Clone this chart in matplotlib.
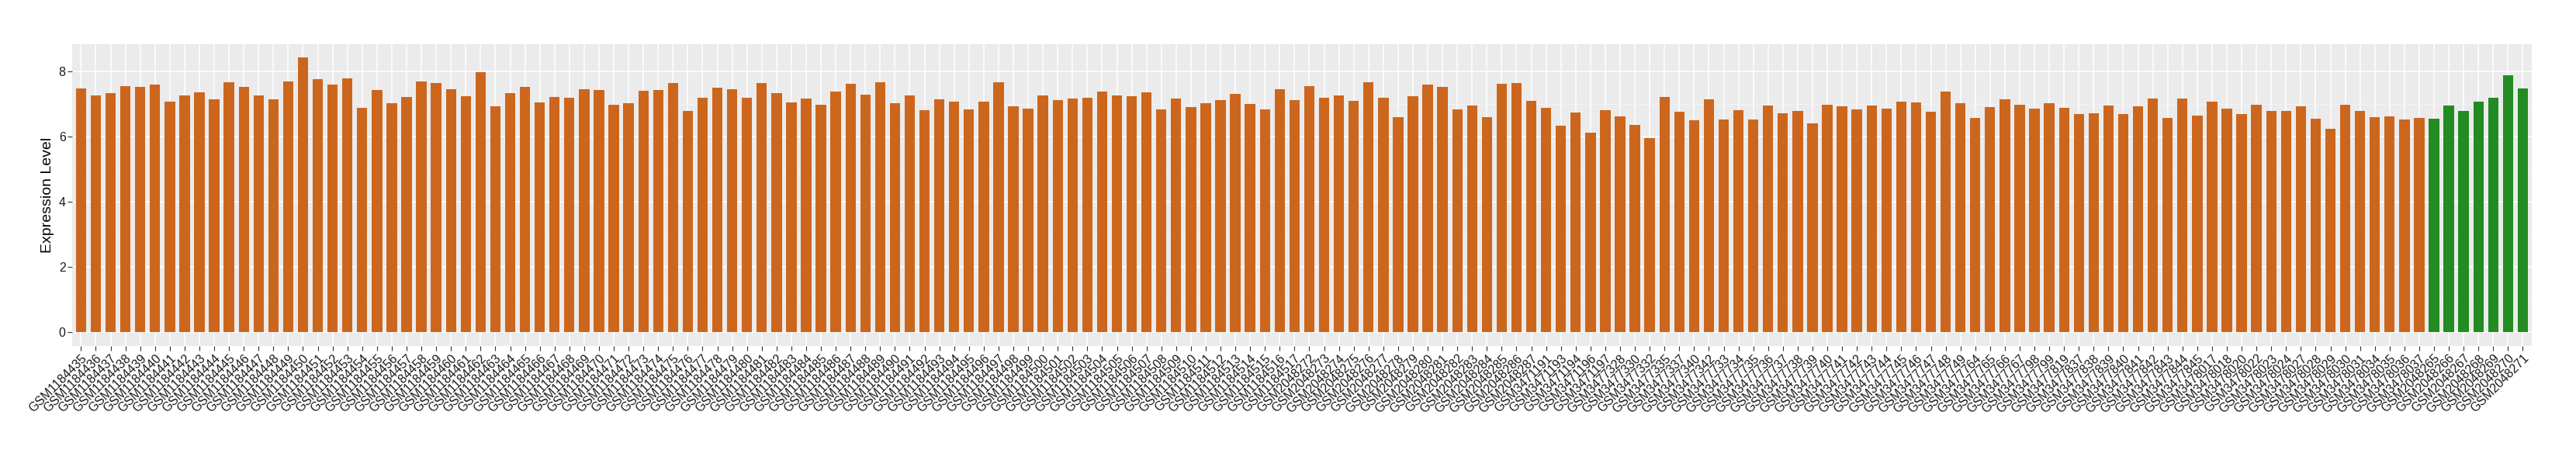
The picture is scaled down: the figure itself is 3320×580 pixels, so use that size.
import matplotlib
matplotlib.use('Agg')
import matplotlib.pyplot as plt
from matplotlib.ticker import MultipleLocator

plt.rcParams['font.family'] = ['Liberation Sans', 'DejaVu Sans']

# sample ids, read left to right
samples_a = ['GSM1184%d' % i for i in range(435, 518)]
samples_b = ['GSM2048%d' % i for i in range(272, 288)]
samples_c = ['GSM3471191', 'GSM3471193', 'GSM3471194', 'GSM3471196', 'GSM3471197',
             'GSM3477328', 'GSM3477330', 'GSM3477332', 'GSM3477335', 'GSM3477337',
             'GSM3477340', 'GSM3477342']
samples_d = ['GSM3477%d' % i for i in range(733, 750)]
samples_e = ['GSM3477764', 'GSM3477765', 'GSM3477766', 'GSM3477767', 'GSM3477798',
             'GSM3477799', 'GSM3477819', 'GSM3477837', 'GSM3477838', 'GSM3477839',
             'GSM3477840', 'GSM3477841', 'GSM3477842', 'GSM3477843', 'GSM3477844',
             'GSM3477845']
samples_f = ['GSM3478017', 'GSM3478018', 'GSM3478020', 'GSM3478022', 'GSM3478023',
             'GSM3478024', 'GSM3478027', 'GSM3478028', 'GSM3478029', 'GSM3478030',
             'GSM3478031', 'GSM3478034', 'GSM3478035', 'GSM3478036', 'GSM3478037']
samples_green = ['GSM2048%d' % i for i in range(265, 272)]

# expression values per block
values_a = [7.47, 7.25, 7.33, 7.54, 7.51, 7.58, 7.06, 7.25, 7.34, 7.13,
            7.65, 7.51, 7.25, 7.13, 7.68, 8.41, 7.75, 7.58, 7.77, 6.87,
            7.41, 7.01, 7.20, 7.68, 7.63, 7.44, 7.23, 7.97, 6.92, 7.33,
            7.51, 7.04, 7.20, 7.18, 7.44, 7.41, 6.97, 7.01, 7.40, 7.41,
            7.63, 6.77, 7.18, 7.49, 7.44, 7.18, 7.63, 7.33, 7.04, 7.16,
            6.97, 7.37, 7.61, 7.27, 7.65, 7.01, 7.25, 6.80, 7.13, 7.06,
            6.83, 7.06, 7.65, 6.92, 6.85, 7.25, 7.11, 7.16, 7.18, 7.37,
            7.25, 7.23, 7.34, 6.83, 7.16, 6.90, 7.01, 7.11, 7.30, 6.99,
            6.83, 7.44, 7.11]
values_b = [7.54, 7.18, 7.25, 7.09, 7.65, 7.18, 6.59, 7.23, 7.58, 7.51,
            6.83, 6.94, 6.59, 7.61, 7.63, 7.09]
values_c = [6.87, 6.33, 6.73, 6.12, 6.80, 6.61, 6.35, 5.95, 7.20, 6.76,
            6.49, 7.13]
values_d = [6.52, 6.80, 6.52, 6.94, 6.70, 6.77, 6.40, 6.97, 6.92, 6.83,
            6.94, 6.85, 7.06, 7.04, 6.76, 7.37, 7.01]
values_e = [6.56, 6.90, 7.13, 6.97, 6.85, 7.01, 6.87, 6.69, 6.70, 6.94,
            6.69, 6.92, 7.16, 6.56, 7.16, 6.63]
values_f = [7.06, 6.85, 6.69, 6.97, 6.77, 6.77, 6.92, 6.54, 6.23, 6.97,
            6.77, 6.59, 6.61, 6.52, 6.56]
values_green = [6.54, 6.94, 6.77, 7.06, 7.18, 7.87, 7.47]

samples = samples_a + samples_b + samples_c + samples_d + samples_e + samples_f + samples_green
values = values_a + values_b + values_c + values_d + values_e + values_f + values_green
n_green = len(samples_green)
colors = ['#CD661D'] * (len(samples) - n_green) + ['#228B22'] * n_green

fig = plt.figure(figsize=(33.2, 5.8), dpi=100)
ax = fig.add_axes([0.028, 0.2314, 0.9548, 0.671])
ax.set_facecolor('#EBEBEB')

x = list(range(len(samples)))
ax.bar(x, values, width=0.7, color=colors, zorder=3)

top = max(values)
ax.set_ylim(-0.05 * top, 1.05 * top)
ax.set_xlim(-0.6, len(samples) - 1 + 0.6)

ax.yaxis.set_major_locator(MultipleLocator(2))
ax.yaxis.set_minor_locator(MultipleLocator(1))
ax.grid(which='major', axis='both', color='white', linewidth=1.1, zorder=0)
ax.grid(which='minor', axis='y', color='#F5F5F5', linewidth=0.6, zorder=0)
ax.set_axisbelow(True)

ax.set_xticks(x)
ax.set_xticklabels(samples, rotation=45, ha='right', va='top',
                   rotation_mode='anchor', fontsize=11.5, color='#1A1A1A')
ax.tick_params(axis='y', labelsize=11.5, labelcolor='#1A1A1A')
ax.tick_params(which='major', color='#333333', length=4, width=0.8, pad=2)
ax.tick_params(which='minor', length=0)

for s in ax.spines.values():
    s.set_visible(False)

ax.set_ylabel('Expression Level', fontsize=14, color='black', labelpad=4)

fig.savefig('out.png', dpi=100, facecolor='white')
